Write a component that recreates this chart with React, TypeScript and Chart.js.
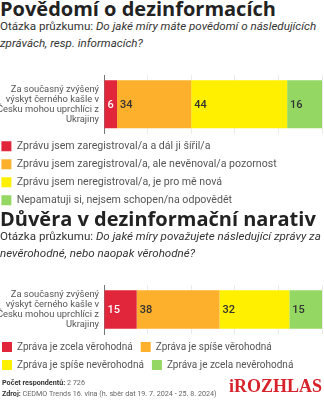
import React, { useEffect, useRef } from "react";
import { Chart, registerables } from "chart.js";

Chart.register(...registerables);
Chart.defaults.font.family = "Roboto";

const categoryLines = ["Za současný zvýšený", "výskyt černého kašle v", "Česku mohou uprchlíci z", "Ukrajiny"];

const awarenessLabels = [
  "Zprávu jsem zaregistroval/a a dál ji šířil/a",
  "Zprávu jsem zaregistroval/a, ale nevěnoval/a pozornost",
  "Zprávu jsem neregistroval/a, je pro mě nová",
  "Nepamatuji si, nejsem schopen/na odpovědět",
];
const awarenessValues = [6, 34, 44, 16];

const trustLabels = [
  "Zpráva je zcela věrohodná",
  "Zpráva je spíše věrohodná",
  "Zpráva je spíše nevěrohodná",
  "Zpráva je zcela nevěrohodná",
];
const trustValues = [15, 38, 32, 15];

const segmentColors = ["#e1253a", "#fdb02b", "#fff000", "#94d763"];
const valueTextColors = ["#ffffff", "#333333", "#333333", "#333333"];

const axisMin = 0;
const axisMax = 100;
const gridStep = 20;

const valueLabelPlugin = {
  id: "valueLabels",
  afterDatasetsDraw(chart: any) {
    const ctx = chart.ctx;
    ctx.save();
    ctx.font = "500 11px Roboto";
    ctx.textBaseline = "middle";
    ctx.textAlign = "left";
    chart.data.datasets.forEach((ds: any, i: number) => {
      const meta = chart.getDatasetMeta(i);
      meta.data.forEach((el: any, j: number) => {
        const p = el.getProps(["x", "y", "base"], true);
        ctx.fillStyle = valueTextColors[i];
        ctx.fillText(String(ds.data[j]), Math.min(p.x, p.base) + 3, p.y + 0.5);
      });
    });
    ctx.restore();
  },
};

function StackedBar(props: {
  labels: string[];
  values: number[];
  top: number;
  height: number;
  barPercentage: number;
  legendFont: number;
}) {
  const ref = useRef<HTMLCanvasElement>(null);
  const { labels, values, top, height, barPercentage, legendFont } = props;
  useEffect(() => {
    const chart = new Chart(ref.current as HTMLCanvasElement, {
      type: "bar",
      data: {
        labels: [categoryLines],
        datasets: labels.map((l, i) => ({
          label: l,
          data: [values[i]],
          backgroundColor: segmentColors[i],
          borderWidth: 0,
          categoryPercentage: 1,
          barPercentage,
        })),
      },
      options: {
        indexAxis: "y",
        responsive: false,
        animation: false,
        layout: { padding: { top: 3, right: 2, left: 0, bottom: 0 } },
        plugins: {
          legend: {
            position: "bottom",
            align: "start",
            labels: {
              boxWidth: 10,
              boxHeight: 10,
              padding: 18 - Math.max(10, legendFont),
              color: "#555",
              font: { size: legendFont },
            },
          },
          tooltip: { enabled: false },
        },
        scales: {
          x: {
            stacked: true,
            min: axisMin,
            max: axisMax,
            ticks: { display: false, stepSize: gridStep },
            grid: { color: "#ebebeb", drawTicks: false },
            border: { display: false },
          },
          y: {
            stacked: true,
            ticks: { color: "#555", font: { size: 9.4, lineHeight: 1.07 }, padding: 5 },
            grid: { display: false, drawTicks: false },
            border: { display: true, color: "#777", width: 1 },
            afterFit: (s: any) => {
              s.width = 110;
            },
          },
        },
      } as any,
      plugins: [valueLabelPlugin],
    });
    return () => chart.destroy();
  }, []);
  return (
    <canvas
      ref={ref}
      width={330}
      height={height}
      style={{ position: "absolute", left: -6, top, width: 330, height }}
    />
  );
}

const titleStyle: React.CSSProperties = {
  position: "absolute",
  left: 0,
  fontFamily: "'Open Sans'",
  fontWeight: 700,
  fontSize: 20,
  lineHeight: "20px",
  color: "#222",
  whiteSpace: "nowrap",
};

const subStyle: React.CSSProperties = {
  position: "absolute",
  left: 0,
  fontFamily: "Roboto",
  fontSize: 11.6,
  lineHeight: "17px",
  color: "#333",
  whiteSpace: "nowrap",
};

export default function App() {
  return (
    <div style={{ position: "fixed", left: 0, top: 0, width: 324, height: 400, overflow: "hidden", background: "#fff" }}>
      <div style={{ ...titleStyle, top: -1 }}>Povědomí o dezinformacích</div>
      <div style={{ ...subStyle, top: 18 }}>
        Otázka průzkumu: <i>Do jaké míry máte povědomí o následujících</i>
        <br />
        <i>zprávách, resp. informacích?</i>
      </div>
      <StackedBar labels={awarenessLabels} values={awarenessValues} top={50} height={164} barPercentage={0.823} legendFont={10.6} />
      <div style={{ ...titleStyle, top: 209 }}>Důvěra v dezinformační narativ</div>
      <div style={{ ...subStyle, top: 228 }}>
        Otázka průzkumu: <i>Do jaké míry považujete následující zprávy za</i>
        <br />
        <i>nevěrohodné, nebo naopak věrohodné?</i>
      </div>
      <StackedBar labels={trustLabels} values={trustValues} top={260} height={120} barPercentage={0.79} legendFont={10} />
      <div
        style={{
          position: "absolute",
          left: 2,
          top: 378,
          fontFamily: "Roboto",
          fontSize: 7.2,
          lineHeight: "10.5px",
          color: "#666",
          whiteSpace: "nowrap",
        }}
      >
        <b style={{ color: "#333" }}>Počet respondentů:</b> 2 726
        <br />
        <b style={{ color: "#333" }}>Zdroj:</b> CEDMO Trends 16. vlna (h. sběr dat 19. 7. 2024 - 25. 8. 2024)
      </div>
      <div
        style={{
          position: "absolute",
          right: 2,
          top: 377,
          fontFamily: "Liberation Serif",
          fontWeight: 700,
          fontSize: 18,
          lineHeight: "18px",
          color: "#d7222c",
          whiteSpace: "nowrap",
        }}
      >
        iROZHLAS
      </div>
    </div>
  );
}
